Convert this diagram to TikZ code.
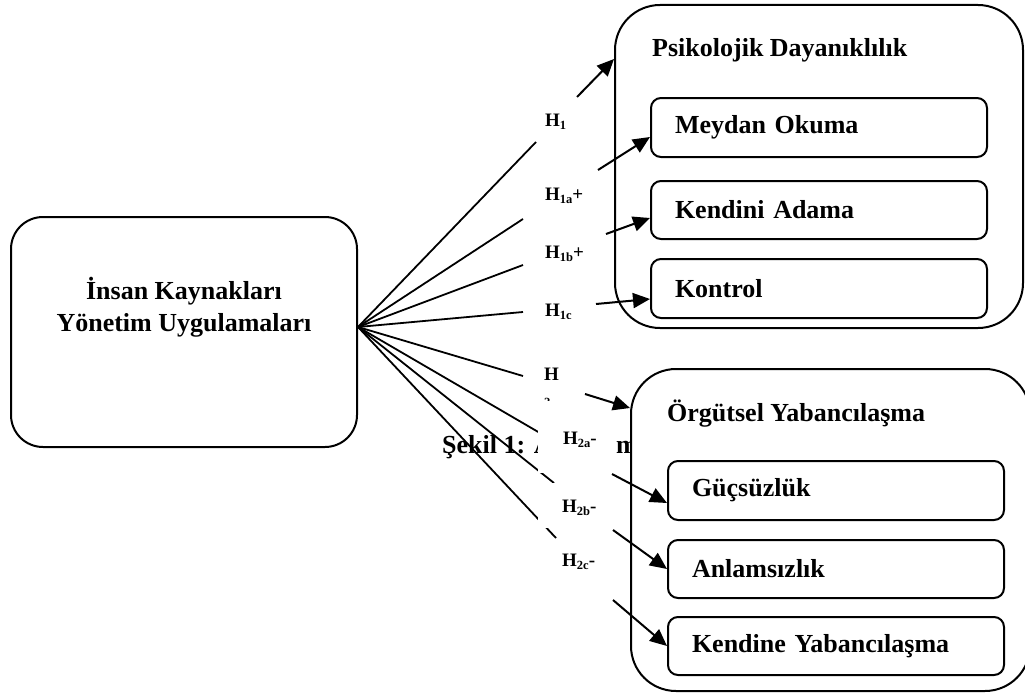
\documentclass[tikz,border=0pt]{standalone}
\usepackage{fontspec}
\setmainfont{Liberation Serif}
\usetikzlibrary{arrows.meta}
\newcommand{\hs}[1]{\raisebox{-3pt}{\fontsize{12.5}{12.5}\selectfont #1}}

\begin{document}
\begin{tikzpicture}[x=1pt,y=-1pt,
    bigtxt/.style={font=\fontsize{26}{32}\selectfont\bfseries},
    hlbl/.style={font=\fontsize{19}{22}\selectfont\bfseries,anchor=base west,inner sep=0pt},
    outerbox/.style={draw,line width=2pt,rounded corners=45pt,fill=white,inner sep=0pt},
    innerbox/.style={draw,line width=2pt,rounded corners=10pt,minimum width=336pt,minimum height=59pt,
      inner xsep=24pt,text width=288pt,align=left,font=\fontsize{26}{32}\selectfont\bfseries},
    fanline/.style={line width=1.8pt},
    arr/.style={line width=2pt,-{Triangle[length=17pt,width=15pt]}},
    mask/.style={fill=white}]
    \useasboundingbox (0,0) rectangle (1025,693);

    \node (iky) at (184,332) [draw,line width=2pt,rounded corners=32pt,minimum width=346pt,minimum height=230pt] {};
    \node (ikytxt) at (184,307) [bigtxt,align=center] {İnsan Kaynakları\\Yönetim Uygulamaları};

    \node (cap) at (442,453) [bigtxt,anchor=base west,inner sep=0pt] {Şekil 1: A};
    \node (capm) at (616,453) [bigtxt,anchor=base west,inner sep=0pt] {m};

    \coordinate (fan) at ([yshift=5pt]iky.east);
    \coordinate (e1) at (536,142);
    \coordinate (e2) at (523,219);
    \coordinate (e3) at (523,265);
    \coordinate (e4) at (523,312);
    \coordinate (e5) at (523,376);
    \coordinate (e6) at (540,433);
    \coordinate (e7) at (554,483);
    \coordinate (e8) at (556,538);

    \draw[fanline] (fan) -- (e1);
    \draw[fanline] (fan) -- (e2);
    \draw[fanline] (fan) -- (e3);
    \draw[fanline] (fan) -- (e4);
    \draw[fanline] (fan) -- (e5);
    \draw[fanline] (fan) -- (e6);
    \draw[fanline] (fan) -- (e7);
    \draw[fanline] (fan) -- (e8);

    \fill[mask] (538,413) rectangle (615,473);
    \fill[mask] (538,483) rectangle (612,528);

    \node (h1) at (545,126) [hlbl] {H\hs{1}};
    \node (h1a) at (545,200) [hlbl] {H\hs{1a}+};
    \node (h1b) at (545,258) [hlbl] {H\hs{1b}+};
    \begin{scope}
      \clip (530,295) rectangle (600,318);
      \node (h1c) at (545,316) [hlbl] {H\hs{1c}};
    \end{scope}
    \begin{scope}
      \clip (530,360) rectangle (600,400);
      \node (h2) at (544,380) [hlbl] {H};
      \node (h2sub) at (544,406) [hlbl,font=\fontsize{12.5}{12.5}\selectfont\bfseries] {2-};
    \end{scope}
    \node (h2a) at (563,444) [hlbl] {H\hs{2a}-};
    \node (h2b) at (562,512) [hlbl] {H\hs{2b}-};
    \node (h2c) at (562,566) [hlbl] {H\hs{2c}-};

    \node (psy) at (819,166.5) [outerbox,minimum width=408pt,minimum height=323pt] {};
    \node (org) at (830.5,530) [outerbox,minimum width=399pt,minimum height=322pt] {};
    \node (psytitle) at (652,57) [bigtxt,anchor=base west,inner sep=0pt] {Psikolojik Dayanıklılık};
    \node (orgtitle) at (667,421) [bigtxt,anchor=base west,inner sep=0pt] {Örgütsel Yabancılaşma};

    \node (meydan) at (819,127.5) [innerbox] {Meydan Okuma};
    \node (adama) at (819,210) [innerbox,minimum height=58pt] {Kendini Adama};
    \node (kontrol) at (819,288.5) [innerbox] {Kontrol};
    \node (guc) at (836,490.5) [innerbox] {Güçsüzlük};
    \node (anlam) at (836,569) [innerbox,minimum height=58pt] {Anlamsızlık};
    \node (kendine) at (836,646) [innerbox,minimum height=58pt] {Kendine Yabancılaşma};

    \coordinate (s1) at (577,97);
    \coordinate (s2) at (598,170);
    \coordinate (s3) at (606,234);
    \coordinate (s4) at (596,304);
    \coordinate (s5) at (585,394);
    \coordinate (s6) at (612,474);
    \coordinate (s7) at (613,530);
    \coordinate (s8) at (613,600);

    \draw[arr] (s1) -- ([yshift=107.5pt]psy.west);
    \draw[arr] (s2) -- ([yshift=-9.5pt]meydan.west);
    \draw[arr] (s3) -- ([yshift=-8pt]adama.west);
    \draw[arr] (s4) -- ([yshift=-10.5pt]kontrol.west);
    \draw[arr] (s5) -- ([yshift=122pt]org.west);
    \draw[arr] (s6) -- ([yshift=-12.5pt]guc.west);
    \draw[arr] (s7) -- (anlam.west);
    \draw[arr] (s8) -- (kendine.west);
\end{tikzpicture}
\end{document}
